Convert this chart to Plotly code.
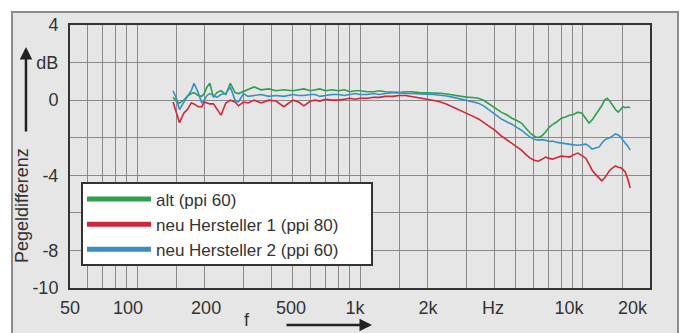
import math
import plotly.graph_objects as go

# ---- data ----
freq_hz = [145, 150, 155, 162, 168, 175, 180, 188, 195, 200, 206, 212, 220, 228, 238, 250,
           262, 275, 285, 300, 315, 335, 360, 390, 420, 455, 500,
           530, 560, 600, 630, 660, 700, 750, 800, 850, 900, 950, 1000, 1080, 1150, 1220, 1300,
           1400, 1500, 1600, 1700, 1850, 2000,
           2150, 2300, 2450, 2600, 2800, 3000, 3200, 3400, 3600, 3800,
           4050, 4300, 4550, 4800, 5050, 5300, 5550, 5800, 6050, 6300,
           6550, 6800, 7050, 7300, 7650, 8000, 8350, 8700, 9100, 9500,
           9900, 10300, 10650, 11000, 11400, 11800, 12150, 12500, 12850, 13200,
           13600, 14000, 14400, 14800, 15150, 15500, 15900, 16300]

alt_db = [0.16, -0.05, -0.16, 0.0, 0.2, 0.35, 0.4, 0.25, 0.2, 0.35, 0.7, 0.9, 0.15, 0.4, 0.5, 0.3,
          0.9, 0.4, 0.35, 0.45, 0.55, 0.7, 0.55, 0.6, 0.5, 0.55, 0.5,
          0.55, 0.6, 0.5, 0.55, 0.6, 0.5, 0.55, 0.5, 0.55, 0.45, 0.5, 0.5, 0.45, 0.45, 0.5, 0.45,
          0.42, 0.4, 0.45, 0.45, 0.4, 0.4,
          0.4, 0.37, 0.33, 0.27, 0.22, 0.16, 0.14, 0.1, -0.02, -0.2,
          -0.4, -0.64, -0.78, -0.96, -1.08, -1.22, -1.5, -1.75, -1.92, -2.0,
          -1.9, -1.7, -1.45, -1.3, -1.15, -0.96, -0.9, -0.8, -0.75, -0.64,
          -0.7, -1.0, -1.22, -1.05, -0.8, -0.55, -0.3, 0.0, 0.1, -0.05,
          -0.3, -0.5, -0.64, -0.5, -0.35, -0.4, -0.37, -0.4]

neu1_db = [-0.1, -0.6, -1.2, -0.7, -0.5, -0.15, -0.2, -0.35, -0.35, -0.1, -0.15, -0.2, -0.2, -0.45, -0.8, -0.15,
           0.0, -0.1, -0.3, -0.1, -0.15, 0.0, -0.15, 0.0, -0.05, -0.35, 0.0,
           -0.1, -0.3, -0.05, 0.0, -0.05, 0.05, 0.0, 0.0, 0.05, 0.1, 0.05, 0.1, 0.1, 0.15, 0.15, 0.2,
           0.2, 0.25, 0.25, 0.2, 0.15, 0.05,
           -0.02, -0.1, -0.22, -0.37, -0.52, -0.69, -0.85, -1.0, -1.2, -1.38,
           -1.62, -1.9, -2.1, -2.29, -2.5, -2.66, -2.9, -3.09, -3.2, -3.25,
           -3.15, -3.03, -3.1, -3.14, -3.05, -2.98, -3.0, -3.03, -2.9, -2.82,
           -2.95, -3.09, -3.4, -3.73, -3.95, -4.15, -4.3, -4.15, -3.9, -3.73,
           -3.6, -3.5, -3.57, -3.6, -3.7, -3.83, -4.2, -4.68]

neu2_db = [0.5, 0.1, -0.5, -0.1, 0.2, 0.5, 0.9, 0.4, -0.15, 0.0, 0.25, 0.35, 0.25, 0.15, 0.3, 0.35,
           0.7, 0.0, -0.1, 0.35, 0.2, 0.25, 0.3, 0.2, 0.25, 0.2, 0.3,
           0.25, 0.25, 0.3, 0.3, 0.2, 0.25, 0.3, 0.3, 0.25, 0.3, 0.35, 0.3, 0.3, 0.35, 0.3, 0.35,
           0.4, 0.4, 0.35, 0.35, 0.35, 0.32,
           0.3, 0.27, 0.22, 0.16, 0.08, 0.0, -0.08, -0.16, -0.32, -0.53,
           -0.75, -1.0, -1.15, -1.28, -1.45, -1.6, -1.8, -1.97, -2.08, -2.13,
           -2.1, -2.13, -2.2, -2.18, -2.25, -2.29, -2.3, -2.34, -2.38, -2.4,
           -2.35, -2.34, -2.45, -2.6, -2.55, -2.5, -2.3, -2.13, -2.05, -2.0,
           -1.9, -1.8, -1.85, -1.97, -2.15, -2.29, -2.45, -2.66]

series_names = ["alt (ppi 60)", "neu Hersteller 1 (ppi 80)", "neu Hersteller 2 (ppi 60)"]
series_colors = ["#2f9e4f", "#d0263a", "#3a8fc0"]

x_tick_vals = [50, 91, 204, 490, 950, 2020, 3950, 8660, 16700]
x_tick_text = ["50", "100", "200", "500", "1k", "2k", "Hz", "10k", "20k"]
x_grid_vals = [60, 70, 80, 90, 100, 150, 200, 300, 400, 500, 600, 700, 800, 900,
               1000, 1500, 2000, 3000, 4000, 5000, 6000, 7000, 8000, 9000, 10000, 15000]
y_tick_vals = [-10, -8, -4, 0, 2, 4]
y_tick_text = ["-10", "-8", "-4", "0", "dB", "4"]
y_grid_vals = [-10, -8, -6, -4, -2, 0, 2, 4]

BG = "#e6e6e6"
GRID = "#8a8a8a"
TXT = "#333333"
FONT = "Liberation Sans, Arial, sans-serif"
FS = 18

fig = go.Figure()
for vals, name, col in zip([alt_db, neu1_db, neu2_db], series_names, series_colors):
    n = min(len(freq_hz), len(vals))
    fig.add_trace(go.Scatter(x=freq_hz[:n], y=vals[:n], mode="lines", name=name,
                             line=dict(color=col, width=1.6), showlegend=False))
    fig.add_trace(go.Scatter(x=[None], y=[None], mode="lines", name=name,
                             line=dict(color=col, width=5), showlegend=True))

fig.update_layout(
    width=685, height=333,
    margin=dict(l=70, r=35, t=25, b=45),
    paper_bgcolor="white", plot_bgcolor=BG,
    font=dict(family=FONT, size=FS, color=TXT),
    xaxis=dict(type="log", range=[math.log10(50), math.log10(20000)],
               tickmode="array", tickvals=x_tick_vals, ticktext=x_tick_text,
               showgrid=False, zeroline=False,
               ticks="outside", ticklen=2, tickcolor=BG,
               showline=True, mirror=True, linecolor="#333", linewidth=2,
               minor=dict(tickmode="array", tickvals=x_grid_vals, showgrid=True,
                          gridcolor=GRID, gridwidth=1, ticklen=0)),
    yaxis=dict(range=[-10, 4], tickmode="array", tickvals=y_tick_vals, ticktext=y_tick_text,
               showgrid=False, zeroline=False,
               ticks="outside", ticklen=6, tickcolor=BG,
               showline=True, mirror=True, linecolor="#333", linewidth=2,
               minor=dict(tickmode="array", tickvals=y_grid_vals, showgrid=True,
                          gridcolor=GRID, gridwidth=1, ticklen=0)),
    legend=dict(x=0.0207, y=0.405, xanchor="left", yanchor="top",
                bgcolor="rgba(0,0,0,0)", borderwidth=0,
                font=dict(size=17, color=TXT), itemwidth=64, tracegroupgap=0),
    shapes=[
        dict(type="rect", xref="paper", yref="paper", x0=-0.1, x1=1.0483,
             y0=-0.25, y1=1.0494, fillcolor=BG, line=dict(color="#8c8c8c", width=2),
             layer="below"),
        dict(type="rect", xref="paper", yref="paper", x0=0.0207, x1=0.5207,
             y0=0.0875, y1=0.399, fillcolor="white", line=dict(color="#333", width=2),
             layer="above"),
    ],
    annotations=[
        dict(xref="paper", yref="paper", x=-0.0759, y=0.916, text="", showarrow=True,
             ax=0, ay=86, arrowhead=2, arrowsize=1, arrowwidth=2.5, arrowcolor="#222"),
        dict(xref="paper", yref="paper", x=-0.0828, y=0.3156, text="Pegeldifferenz",
             textangle=-90, showarrow=False, xanchor="center", yanchor="middle",
             font=dict(size=FS, color=TXT)),
        dict(xref="paper", yref="paper", x=0.5207, y=-0.1407, text="", showarrow=True,
             ax=-87, ay=0, arrowhead=2, arrowsize=1, arrowwidth=2.5, arrowcolor="#222"),
        dict(xref="paper", yref="paper", x=0.305, y=-0.122, text="f",
             showarrow=False, xanchor="center", yanchor="middle",
             font=dict(size=FS, color=TXT)),
    ],
)

fig.write_html("out.html")
